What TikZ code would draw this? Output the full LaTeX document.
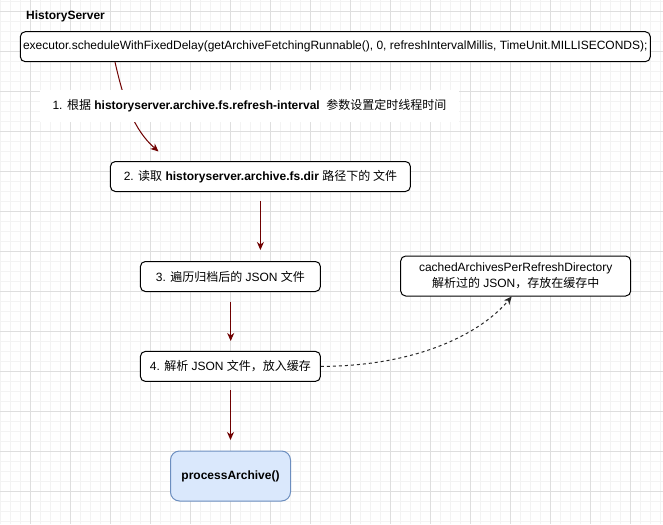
\documentclass[tikz,border=0pt]{standalone}
\usepackage{fontspec}
\setmainfont{Liberation Sans}
\newfontfamily\cjkfont{Noto Sans CJK SC}
\newcommand\zhtext[1]{{\cjkfont #1}}
\usetikzlibrary{arrows.meta}
\definecolor{gridminor}{HTML}{F3F3F3}
\definecolor{gridmajor}{HTML}{DEDEDE}
\definecolor{arrowred}{HTML}{6F0000}
\definecolor{blueFill}{HTML}{DAE8FC}
\definecolor{blueLine}{HTML}{6C8EBF}
\tikzset{
  box/.style={draw=black, fill=white, rounded corners=5pt, line width=1pt, inner sep=0pt,
    align=center, font=\fontsize{12}{15.5}\selectfont},
  flow/.style={draw=arrowred, line width=1pt, -{Stealth[length=8pt,width=7pt,inset=2.5pt]}},
  dashflow/.style={draw=black!85, line width=1pt, dash pattern=on 3pt off 3pt,
    -{Stealth[length=8pt,width=7pt,inset=2.5pt]}},
  lbl/.style={fill=white, inner sep=0pt, font=\fontsize{12}{15}\selectfont}
}
\begin{document}
\begin{tikzpicture}[x=1pt,y=-1pt]
\useasboundingbox (0,0) rectangle (663,524);
\fill[white] (0,0) rectangle (663,524);
% grid
\foreach \i in {0,...,66} {\draw[gridminor, line width=1pt] (0.7+10*\i,0) -- (0.7+10*\i,524);}
\foreach \i in {0,...,52} {\draw[gridminor, line width=1pt] (0,1.5+10*\i) -- (663,1.5+10*\i);}
\foreach \i in {0,...,16} {\draw[gridmajor, line width=1pt] (30.7+40*\i,0) -- (30.7+40*\i,524);}
\foreach \i in {0,...,13} {\draw[gridmajor, line width=1pt] (0,11.5+40*\i) -- (663,11.5+40*\i);}

\node[font=\bfseries\fontsize{12}{14}\selectfont, anchor=west, inner sep=0pt] (title) at (26,16) {HistoryServer};

\node[box, minimum width=630pt, minimum height=30pt] (sched) at (335.3,46.7)
  {executor.scheduleWithFixedDelay(getArchiveFetchingRunnable(), 0, refreshIntervalMillis, TimeUnit.MILLISECONDS);};

\node[box, minimum width=300pt, minimum height=30pt] (read) at (260.4,176.5)
  {2. \zhtext{读取} \textbf{historyserver.archive.fs.dir} \zhtext{路径下的 文件}};

\node[box, minimum width=180pt, minimum height=30pt] (iter) at (230.4,276.5)
  {3. \zhtext{遍历归档后的} JSON \zhtext{文件}};

\node[box, minimum width=180pt, minimum height=30pt] (parse) at (230.4,366.4)
  {4. \zhtext{解析} JSON \zhtext{文件，放入缓存}};

\node[box, minimum width=230pt, minimum height=40pt] (cache) at (515.7,276)
  {cachedArchivesPerRefreshDirectory\\\zhtext{解析过的} JSON\zhtext{，存放在缓存中}};

\node[box, draw=blueLine, fill=blueFill, rounded corners=9pt, minimum width=120pt, minimum height=50pt,
  font=\bfseries\fontsize{12}{15}\selectfont] (proc) at (230.5,476) {processArchive()};

% connector free ends
\coordinate (a1s) at (115,62);
\coordinate (a1e) at (158.5,151.5);
\coordinate (a2s) at (260.4,201);
\coordinate (a2e) at (260.4,250);
\coordinate (a3s) at (230.7,301.5);
\coordinate (a3e) at (230.7,341);
\coordinate (a4s) at (230.5,390);
\coordinate (a4e) at (230.5,440);
\coordinate (a5e) at (511.7,296.5);

\draw[flow] (a1s) .. controls (124,102) and (134,130) .. (a1e);
\node[lbl, minimum width=419pt, minimum height=32pt] (lab1) at (249.5,106)
  {1. \zhtext{根据} \textbf{historyserver.archive.fs.refresh-interval} \ \zhtext{参数设置定时线程时间}};

\draw[flow] (a2s) -- (a2e);
\draw[flow] (a3s) -- (a3e);
\draw[flow] (a4s) -- (a4e);
\draw[dashflow] (parse.east) .. controls (420,366) and (482,332) .. (a5e);
\end{tikzpicture}
\end{document}
